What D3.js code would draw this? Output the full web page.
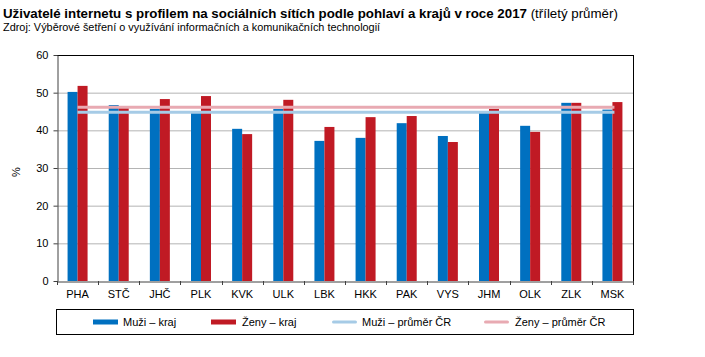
<!DOCTYPE html>
<html><head><meta charset="utf-8">
<script src="https://cdn.jsdelivr.net/npm/d3@7"></script>
<style>
body{margin:0;background:#fff;}
text{font-family:"Liberation Sans",Arial,sans-serif;fill:#000;}
</style></head>
<body><svg id="c" width="705" height="357"></svg>
<script>
const categories = ["PHA","STČ","JHČ","PLK","KVK","ULK","LBK","HKK","PAK","VYS","JHM","OLK","ZLK","MSK"];
const muziKraj = [50.2,46.7,45.7,44.9,40.4,45.7,37.2,38.0,41.9,38.5,44.6,41.2,47.3,45.5];
const zenyKraj = [51.8,46.2,48.3,49.1,39.0,48.1,40.9,43.5,43.8,36.9,45.7,39.6,47.3,47.5];
const muziPrumer = 44.8;
const zenyPrumer = 46.1;
const yTicks = [0,10,20,30,40,50,60];
const seriesNames = ["Muži – kraj","Ženy – kraj","Muži – průměr ČR","Ženy – průměr ČR"];
const colors = {muzi:"#0070c0", zeny:"#c01a24", muziAvg:"#a6cbe6", zenyAvg:"#e8aab2"};

const svg = d3.select("#c");
const m = {l:57, r:633, t:55, b:281};
const x = d3.scaleBand().domain(categories).range([m.l, m.r]);
const y = d3.scaleLinear().domain([0,60]).range([m.b, m.t]);

// title
const t = svg.append("text").attr("x",3).attr("y",18).style("font-size","13.3px");
t.append("tspan").style("font-weight","bold").text("Uživatelé internetu s profilem na sociálních sítích podle pohlaví a krajů v roce 2017");
t.append("tspan").text(" (tříletý průměr)");
svg.append("text").attr("x",3).attr("y",31).style("font-size","10.9px")
  .text("Zdroj: Výběrové šetření o využívání informačních a komunikačních technologií");

// gridlines
svg.append("g").selectAll("line").data(yTicks.filter(d=>d>0 && d<60)).join("line")
  .attr("x1",m.l).attr("x2",m.r).attr("y1",d=>y(d)+0.5).attr("y2",d=>y(d)+0.5)
  .attr("stroke","#b4b4b4").attr("stroke-width",1);

// bars
const bw = 10;
svg.append("g").selectAll("rect").data(categories).join("rect")
  .attr("x",(d)=>x(d)+x.bandwidth()/2-bw).attr("width",bw)
  .attr("y",(d,i)=>y(muziKraj[i])).attr("height",(d,i)=>y(0)-y(muziKraj[i]))
  .attr("fill",colors.muzi);
svg.append("g").selectAll("rect").data(categories).join("rect")
  .attr("x",(d)=>x(d)+x.bandwidth()/2).attr("width",bw)
  .attr("y",(d,i)=>y(zenyKraj[i])).attr("height",(d,i)=>y(0)-y(zenyKraj[i]))
  .attr("fill",colors.zeny);

// average lines
const x0 = x(categories[0])+x.bandwidth()/2, x1 = x(categories[categories.length-1])+x.bandwidth()/2+2;
svg.append("line").attr("x1",x0).attr("x2",x1).attr("y1",y(zenyPrumer)).attr("y2",y(zenyPrumer))
  .attr("stroke",colors.zenyAvg).attr("stroke-width",3);
svg.append("line").attr("x1",x0).attr("x2",x1).attr("y1",y(muziPrumer)).attr("y2",y(muziPrumer))
  .attr("stroke",colors.muziAvg).attr("stroke-width",3);

// frame: top & right black
svg.append("line").attr("x1",m.l).attr("x2",m.r+0.5).attr("y1",m.t+0.5).attr("y2",m.t+0.5).attr("stroke","#000");
svg.append("line").attr("x1",m.r+0.5).attr("x2",m.r+0.5).attr("y1",m.t).attr("y2",m.b).attr("stroke","#000");

// y axis
const ya = svg.append("g").attr("transform",`translate(${m.l+0.5},0)`)
  .call(d3.axisLeft(y).tickValues(yTicks).tickSize(4).tickPadding(5).tickSizeOuter(0));
ya.select(".domain").attr("stroke","#404040");
ya.selectAll(".tick line").attr("stroke","#404040");
ya.selectAll(".tick text").style("font-size","11px").style("font-family","Liberation Sans, Arial").attr("fill","#000");

// x axis
const xa = svg.append("g").attr("transform",`translate(0,${m.b+0.5})`)
  .call(d3.axisBottom(x).tickSize(0).tickPadding(9).tickSizeOuter(0));
xa.select(".domain").attr("stroke","#404040");
xa.selectAll(".tick text").style("font-size","11px").style("font-family","Liberation Sans, Arial").attr("fill","#000");
svg.append("g").selectAll("line").data(categories.concat(["end"])).join("line")
  .attr("x1",(d,i)=>Math.round(m.l + i*x.bandwidth())+0.5).attr("x2",(d,i)=>Math.round(m.l + i*x.bandwidth())+0.5)
  .attr("y1",m.b).attr("y2",m.b+4).attr("stroke","#404040");

// y label
svg.append("text").attr("transform",`translate(20,172) rotate(-90)`).attr("text-anchor","middle")
  .style("font-size","11px").text("%");

// legend
svg.append("rect").attr("x",56.5).attr("y",309.5).attr("width",577).attr("height",25)
  .attr("fill","none").attr("stroke","#000");
const leg = [
  {name:seriesNames[0], c:colors.muzi, x:93, tx:123, h:5},
  {name:seriesNames[1], c:colors.zeny, x:211, tx:242, h:5},
  {name:seriesNames[2], c:colors.muziAvg, x:332, tx:362, h:3},
  {name:seriesNames[3], c:colors.zenyAvg, x:484, tx:515, h:3}
];
const lg = svg.append("g").selectAll("g").data(leg).join("g");
lg.append("rect").attr("x",d=>d.x).attr("y",d=>322-d.h/2).attr("width",25).attr("height",d=>d.h)
  .attr("fill",d=>d.c).attr("rx",d=>d.h===3?1.5:0);
lg.append("text").attr("x",d=>d.tx).attr("y",326).style("font-size","11px").text(d=>d.name);
</script></body></html>
